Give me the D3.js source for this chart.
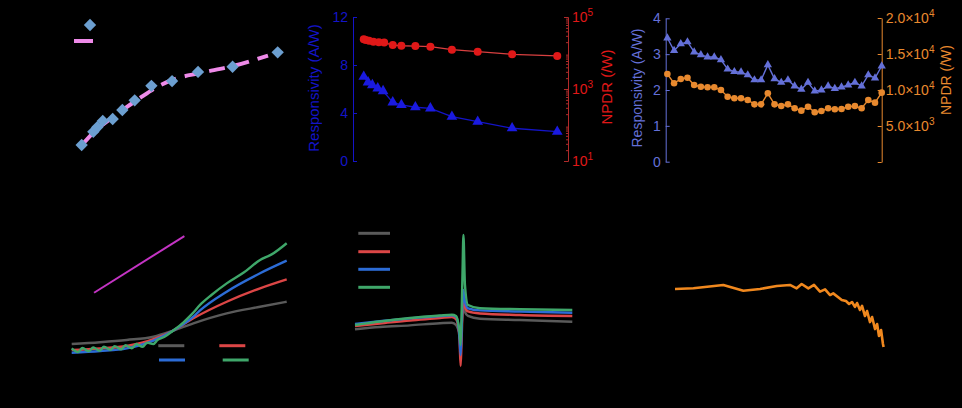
<!DOCTYPE html>
<html>
<head>
<meta charset="utf-8">
<script src="https://cdn.jsdelivr.net/npm/d3@7"></script>
<style>
  body { margin: 0; background: #000; }
  svg { display: block; font-family: "Liberation Sans", Arial, sans-serif; }
</style>
</head>
<body>
<svg id="fig" width="962" height="408" viewBox="0 0 962 408"></svg>
<script>
// ---- panel a: responsivity vs power with fit
const aPower = [5.3, 10.6, 12.4, 14.9, 19.4, 23.8, 29.4, 37.0, 46.4, 58.2, 73.9, 94.4];
const aResp  = [1.07, 2.02, 2.34, 2.79, 2.93, 3.57, 4.26, 5.30, 5.64, 6.29, 6.66, 7.69];
const aFitX  = [5.45, 11.4, 19.5, 25.9, 31.8, 39.5, 47.7, 59.1, 75.0, 90.0];
const aFitY  = [1.07, 2.07, 3.07, 3.79, 4.43, 5.21, 5.79, 6.21, 6.75, 7.46];

// ---- panel b: responsivity and NPDR vs power
const bPowerR = [10, 14, 18, 23, 28, 37, 45, 58, 72, 92, 116, 148, 190];
const bResp   = [7.03, 6.56, 6.33, 6.06, 5.83, 4.89, 4.67, 4.48, 4.39, 3.69, 3.28, 2.73, 2.44];
const bPowerN = [10, 12, 15, 19, 24, 29, 37, 45, 58, 72, 92, 116, 148, 190];
const bNpdr   = [24000, 23000, 22000, 20500, 19800, 19500, 16600, 15900, 15600, 15000, 12400, 10900, 9200, 8300];

// ---- panel c: responsivity and NPDR vs wavelength
const cWave = [400, 420, 440, 460, 480, 500, 520, 540, 560, 580, 600, 620, 640, 660, 680, 700, 720,
               740, 760, 780, 800, 820, 840, 860, 880, 900, 920, 940, 960, 980, 1000, 1020, 1040];
const cResp = [3.45, 3.10, 3.29, 3.34, 3.06, 2.98, 2.92, 2.92, 2.84, 2.58, 2.51, 2.50, 2.42, 2.28, 2.28, 2.70, 2.31,
               2.21, 2.28, 2.11, 2.02, 2.21, 1.97, 2.00, 2.11, 2.04, 2.08, 2.14, 2.21, 2.11, 2.42, 2.33, 2.67];
const cNpdr = [12220, 10930, 11530, 11710, 10690, 10460, 10380, 10380, 10000, 9070, 8850, 8850, 8610, 8010, 8010, 9540, 8010,
               7780, 8010, 7460, 7130, 7680, 6900, 7080, 7460, 7320, 7360, 7680, 7780, 7460, 8610, 8240, 9630];

// ---- panel d: four curves + reference line
const dX     = [0, 13.2, 25.6, 38, 47.1, 56.6, 72.1, 87.6, 100];
const dGray  = [1.50, 1.63, 1.79, 2.02, 2.45, 2.98, 3.69, 4.16, 4.52];
const dRed   = [1.07, 1.18, 1.36, 1.84, 2.45, 3.34, 4.52, 5.48, 6.12];
const dBlueX = [0, 13.2, 25.6, 38, 47.1, 56.6, 59.7, 72.1, 87.6, 100];
const dBlue  = [0.88, 1.00, 1.19, 1.74, 2.45, 3.45, 3.90, 5.24, 6.55, 7.45];
const dGreenX = [0, 3, 5, 8, 10, 13, 15, 18, 20, 23, 25, 28, 30, 33, 35, 38, 40, 43, 47.1, 52, 56, 59.7, 65, 72.1, 80, 87.6, 93, 100];
const dGreen  = [1.19, 0.93, 1.21, 0.98, 1.25, 1.02, 1.30, 1.08, 1.35, 1.12, 1.42, 1.20, 1.50, 1.30, 1.60, 1.50, 1.80, 2.00,
                 2.45, 3.05, 3.65, 4.29, 5.00, 5.83, 6.60, 7.50, 7.90, 8.70];
const dRefX  = [10.4, 52.4];
const dRefY  = [5.16, 9.21];

// ---- panel e: resonance curves
const eX     = [0, 11.5, 25.3, 39.1, 44.6, 46.5, 47.4, 48.1, 48.6, 49.0, 49.5, 49.9, 50.6, 52.0, 57.5, 75.9, 100];
const eGray  = [2.91, 3.07, 3.19, 3.34, 3.38, 3.21, 2.93, 2.64, 2.50, 3.00, 4.14, 4.64, 4.14, 3.86, 3.66, 3.57, 3.45];
const eRed   = [3.14, 3.32, 3.54, 3.71, 3.79, 3.64, 3.21, 2.14, 0.29, 1.79, 4.29, 5.00, 4.50, 4.18, 4.04, 3.93, 3.86];
const eBlue  = [3.29, 3.48, 3.69, 3.86, 3.91, 3.79, 3.36, 2.29, 1.07, 2.50, 5.00, 5.71, 4.86, 4.41, 4.26, 4.18, 4.09];
const eGreen = [3.21, 3.46, 3.71, 3.89, 3.95, 3.86, 3.43, 2.71, 1.79, 3.57, 7.14, 9.64, 6.07, 4.64, 4.41, 4.34, 4.29];

// ---- panel f: orange trace
const fX = [0, 8.8, 23.1, 32.7, 40.7, 48.7, 55, 58.2, 60.6, 63.8, 66.5, 69.4, 71.8, 74.2, 75.7, 79.8, 81.8,
            83.3, 84.7, 86.1, 87.1, 88.5, 89.5, 90.9, 91.9, 93.3, 94.3, 95.7, 96.7, 97.6, 98.6, 99.5, 99.8];
const fY = [5.07, 5.12, 5.36, 4.95, 5.07, 5.29, 5.36, 5.12, 5.43, 5.12, 5.36, 4.88, 5.05, 4.64, 4.76, 4.29, 4.21,
            4.00, 4.14, 3.79, 4.07, 3.57, 3.86, 3.14, 3.50, 2.71, 3.07, 2.21, 2.57, 1.71, 2.14, 1.14, 0.93];

const svg = d3.select("#fig");
const zip = (xs, ys) => xs.map((x, i) => [x, ys[i]]);

function paint(g, color) {
    g.selectAll("path, line").attr("stroke", color);
    g.selectAll("text").attr("fill", color).attr("font-size", 14);
}

// ---------------- panel a
{
    const x = d3.scaleLinear().domain([0, 100]).range([70, 290]);
    const y = d3.scaleLinear().domain([0, 10]).range([160, 20]);
    const g = svg.append("g");
    g.append("g").attr("transform", "translate(0,160)").call(d3.axisBottom(x).ticks(5)).call(paint, "#000");
    g.append("g").attr("transform", "translate(70,0)").call(d3.axisLeft(y).ticks(5)).call(paint, "#000");

    g.append("path")
        .attr("d", d3.line().x(d => x(d[0])).y(d => y(d[1])).curve(d3.curveMonotoneX)(zip(aFitX, aFitY)))
        .attr("fill", "none").attr("stroke", "#ee8ae8").attr("stroke-width", 4)
        .attr("stroke-dasharray", "16,9");

    const diamond = d3.symbol().type(d3.symbolSquare).size(76);
    g.selectAll(".dia").data(zip(aPower, aResp)).enter().append("path")
        .attr("d", diamond)
        .attr("transform", d => `translate(${x(d[0])},${y(d[1])}) rotate(45)`)
        .attr("fill", "#6c9fd0");

    // legend
    g.append("path").attr("d", diamond).attr("transform", "translate(90,25) rotate(45)").attr("fill", "#6c9fd0");
    g.append("line").attr("x1", 74).attr("x2", 93).attr("y1", 41).attr("y2", 41)
        .attr("stroke", "#ee8ae8").attr("stroke-width", 4);
}

// ---------------- panel b
{
    const x = d3.scaleLinear().domain([0, 200]).range([353, 568]);
    const yL = d3.scaleLinear().domain([0, 12]).range([161, 17]);
    const yR = d3.scaleLog().domain([10, 1e5]).range([161, 17]);
    const blue = "#1414c8", red = "#e01818", redAxis = "#b02a2a";
    const g = svg.append("g");

    g.append("g").attr("transform", "translate(0,161)").call(d3.axisBottom(x).ticks(4)).call(paint, "#000");
    g.append("g").attr("transform", "translate(353,0)")
        .call(d3.axisLeft(yL).tickValues([0, 4, 8, 12]).tickFormat(d3.format("d"))
            .tickSizeInner(-4).tickSizeOuter(0).tickPadding(5))
        .call(paint, blue);

    const minor = [];
    [10, 100, 1000, 10000].forEach(p => { for (let k = 2; k < 10; k++) minor.push(p * k); });
    g.append("g").attr("transform", "translate(568,0)")
        .call(d3.axisRight(yR).tickValues(minor).tickSizeInner(-2).tickSizeOuter(0).tickFormat(""))
        .call(paint, redAxis);
    const ra = g.append("g").attr("transform", "translate(568,0)")
        .call(d3.axisRight(yR).tickValues([10, 1000, 100000]).tickSizeInner(-4).tickSizeOuter(0).tickPadding(4))
        .call(paint, redAxis);
    ra.selectAll(".tick text").attr("fill", red).each(function (d) {
        const t = d3.select(this).text(null);
        t.append("tspan").text("10");
        t.append("tspan").attr("dy", -6).attr("font-size", 10).text(Math.round(Math.log10(d)));
    });

    g.append("text").attr("transform", "translate(319,88) rotate(-90)")
        .attr("text-anchor", "middle").attr("font-size", 15).attr("fill", blue).text("Responsivity (A/W)");
    g.append("text").attr("transform", "translate(612,87) rotate(-90)")
        .attr("text-anchor", "middle").attr("font-size", 15).attr("fill", red).text("NPDR (/W)");

    g.append("path")
        .attr("d", d3.line().x(d => x(d[0])).y(d => yR(d[1]))(zip(bPowerN, bNpdr)))
        .attr("fill", "none").attr("stroke", "#d84040").attr("stroke-width", 1.3);
    g.selectAll(".rc").data(zip(bPowerN, bNpdr)).enter().append("circle")
        .attr("cx", d => x(d[0])).attr("cy", d => yR(d[1])).attr("r", 4).attr("fill", red);

    g.append("path")
        .attr("d", d3.line().x(d => x(d[0])).y(d => yL(d[1]))(zip(bPowerR, bResp)))
        .attr("fill", "none").attr("stroke", blue).attr("stroke-width", 1.3);
    const tri = d3.symbol().type(d3.symbolTriangle).size(50);
    g.selectAll(".bt").data(zip(bPowerR, bResp)).enter().append("path")
        .attr("d", tri).attr("transform", d => `translate(${x(d[0])},${yL(d[1])})`).attr("fill", "#1a1ae0");
}

// ---------------- panel c
{
    const x = d3.scaleLinear().domain([395, 1040]).range([665.7, 881.7]);
    const yL = d3.scaleLinear().domain([0, 4]).range([161.7, 18.3]);
    const yR = d3.scaleLinear().domain([0, 20000]).range([162, 18]);
    const blue = "#6470d8", orange = "#e8892e";
    const g = svg.append("g");

    g.append("g").attr("transform", "translate(0,162)").call(d3.axisBottom(x).ticks(4)).call(paint, "#000");
    g.append("g").attr("transform", "translate(665.7,0)")
        .call(d3.axisLeft(yL).tickValues([0, 1, 2, 3, 4]).tickFormat(d3.format("d"))
            .tickSizeInner(-4).tickSizeOuter(0).tickPadding(5))
        .call(paint, blue);
    g.append("g").attr("transform", "translate(881.7,0)")
        .call(d3.axisRight(yR).tickValues([0, 5000, 10000, 15000, 20000]).tickSizeInner(-4).tickSizeOuter(0).tickPadding(4))
        .call(paint, orange)
        .selectAll(".tick text").each(function (d) {
            const t = d3.select(this).text(null);
            if (d === 0) return;
            const e = Math.floor(Math.log10(d));
            t.append("tspan").text((d / Math.pow(10, e)).toFixed(1) + "\u00d710");
            t.append("tspan").attr("dy", -6).attr("font-size", 10).text(e);
        });

    g.append("text").attr("transform", "translate(642,88) rotate(-90)")
        .attr("text-anchor", "middle").attr("font-size", 14).attr("fill", blue).text("Responsivity (A/W)");
    g.append("text").attr("transform", "translate(951,80) rotate(-90)")
        .attr("text-anchor", "middle").attr("font-size", 14).attr("fill", orange).text("NPDR (/W)");

    g.append("path")
        .attr("d", d3.line().x(d => x(d[0])).y(d => yR(d[1]))(zip(cWave, cNpdr)))
        .attr("fill", "none").attr("stroke", orange).attr("stroke-width", 1.4);
    g.selectAll(".oc").data(zip(cWave, cNpdr)).enter().append("circle")
        .attr("cx", d => x(d[0])).attr("cy", d => yR(d[1])).attr("r", 3.3).attr("fill", orange);

    g.append("path")
        .attr("d", d3.line().x(d => x(d[0])).y(d => yL(d[1]))(zip(cWave, cResp)))
        .attr("fill", "none").attr("stroke", blue).attr("stroke-width", 1.4);
    const tri = d3.symbol().type(d3.symbolTriangle).size(30);
    g.selectAll(".ct").data(zip(cWave, cResp)).enter().append("path")
        .attr("d", tri).attr("transform", d => `translate(${x(d[0])},${yL(d[1])})`).attr("fill", blue);
}

// ---------------- panel d
{
    const x = d3.scaleLinear().domain([0, 100]).range([71.7, 286.7]);
    const y = d3.scaleLinear().domain([0, 10]).range([365, 225]);
    const g = svg.append("g");
    g.append("g").attr("transform", "translate(0,372)").call(d3.axisBottom(x).ticks(5)).call(paint, "#000");
    g.append("g").attr("transform", "translate(66,0)").call(d3.axisLeft(y).ticks(5)).call(paint, "#000");

    const line = d3.line().x(d => x(d[0])).y(d => y(d[1])).curve(d3.curveMonotoneX);
    const series = [
        [zip(dX, dGray), "#5a5a5a"],
        [zip(dX, dRed), "#dc4646"],
        [zip(dBlueX, dBlue), "#2c6cd6"],
        [zip(dGreenX, dGreen), "#3fa76a"]
    ];
    series.forEach(([pts, c]) => {
        g.append("path").attr("d", line(pts)).attr("fill", "none").attr("stroke", c).attr("stroke-width", 2.4);
    });
    g.append("path").attr("d", d3.line().x(d => x(d[0])).y(d => y(d[1]))(zip(dRefX, dRefY)))
        .attr("stroke", "#c434c4").attr("stroke-width", 2);

    const leg = [[158.3, 345.7, "#5a5a5a"], [219.3, 345.7, "#dc4646"], [159, 360, "#2c6cd6"], [222.7, 360, "#3fa76a"]];
    leg.forEach(([lx, ly, c]) => {
        g.append("line").attr("x1", lx).attr("x2", lx + 26).attr("y1", ly).attr("y2", ly)
            .attr("stroke", c).attr("stroke-width", 3);
    });
}

// ---------------- panel e
{
    const x = d3.scaleLinear().domain([0, 100]).range([355, 572.3]);
    const y = d3.scaleLinear().domain([0, 10]).range([370, 230]);
    const g = svg.append("g");
    g.append("g").attr("transform", "translate(0,375)").call(d3.axisBottom(x).ticks(5)).call(paint, "#000");
    g.append("g").attr("transform", "translate(348,0)").call(d3.axisLeft(y).ticks(5)).call(paint, "#000");

    const line = d3.line().x(d => x(d[0])).y(d => y(d[1])).curve(d3.curveMonotoneX);
    const cols = ["#5a5a5a", "#dc4646", "#2c6cd6", "#3fa76a"];
    [eGray, eRed, eBlue, eGreen].forEach((s, i) => {
        g.append("path").attr("d", line(zip(eX, s))).attr("fill", "none")
            .attr("stroke", cols[i]).attr("stroke-width", 2.4);
    });
    [233.3, 251.7, 269.3, 287.3].forEach((ly, i) => {
        g.append("line").attr("x1", 358.3).attr("x2", 390).attr("y1", ly).attr("y2", ly)
            .attr("stroke", cols[i]).attr("stroke-width", 3);
    });
}

// ---------------- panel f
{
    const x = d3.scaleLinear().domain([0, 100]).range([675, 884]);
    const y = d3.scaleLinear().domain([0, 10]).range([360, 220]);
    const g = svg.append("g");
    g.append("g").attr("transform", "translate(0,365)").call(d3.axisBottom(x).ticks(5)).call(paint, "#000");
    g.append("g").attr("transform", "translate(668,0)").call(d3.axisLeft(y).ticks(5)).call(paint, "#000");
    g.append("path")
        .attr("d", d3.line().x(d => x(d[0])).y(d => y(d[1]))(zip(fX, fY)))
        .attr("fill", "none").attr("stroke", "#f0881e").attr("stroke-width", 2.6).attr("stroke-linejoin", "round");
}
</script>
</body>
</html>
